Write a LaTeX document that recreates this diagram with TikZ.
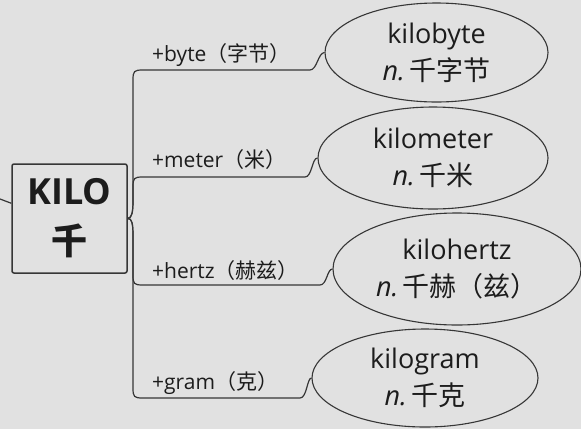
\documentclass[tikz,border=0pt]{standalone}
\usepackage{fontspec}
\setmainfont{Open Sans}
\newfontfamily\cjk{Noto Sans CJK SC}
\usetikzlibrary{shapes.geometric,calc}
\definecolor{bg}{HTML}{E1E1E1}
\definecolor{ink}{HTML}{1C1C1C}
\definecolor{ln}{HTML}{363636}
\begin{document}
\begin{tikzpicture}[x=1pt,y=-1pt,
  word/.style={ellipse,draw=ln,line width=1.1pt,inner sep=0pt,align=center,text=ink,font=\fontsize{27}{37}\selectfont},
  lab/.style={anchor=west,inner sep=0pt,text=ink,font=\fontsize{21}{25}\selectfont},
  br/.style={draw=ln,line width=1.2pt}]
\fill[bg] (0,0) rectangle (581,429);
\useasboundingbox (0,0) rectangle (581,429);
\node[draw=ln,line width=1.5pt,rounded corners=2pt,minimum width=115pt,minimum height=109pt,inner sep=0pt,align=center,text=ink,font=\bfseries\fontsize{36}{50}\selectfont] (kilo) at (69.5,218.5) {KILO\\{\cjk\bfseries 千}};
\node[word,minimum width=223pt,minimum height=99pt] (e1) at (436.5,52.5) {kilobyte\\\textit{n.}\,{\cjk 千字节}};
\node[word,minimum width=230pt,minimum height=102pt] (e2) at (433,158) {kilometer\\\textit{n.}\,{\cjk 千米}};
\node[word,minimum width=248pt,minimum height=112pt] (e3) at (457,269) {kilohertz\\\textit{n.}\,{\cjk 千赫（兹）}};
\node[word,minimum width=226pt,minimum height=98pt] (e4) at (425,378) {kilogram\\\textit{n.}\,{\cjk 千克}};
\node[lab] (l1) at (152,55) {+byte{\cjk （字节）}};
\node[lab] (l2) at (152,160) {+meter{\cjk （米）}};
\node[lab] (l3) at (152,271) {+hertz{\cjk （赫兹）}};
\node[lab] (l4) at (152,383) {+gram{\cjk （克）}};
\coordinate (in) at (0,199);
\draw[br] (in) -- ($(kilo.north west)+(0,40)$);
\draw[br] (kilo.east) .. controls (132,218) and (133,212) .. (133,200) -- (133,80) .. controls (133,71) and (134,70) .. (143,70) -- (310,70) .. controls (317,70) and (318,53) .. (e1.west);
\draw[br] (kilo.east) .. controls (132,218) and (133,212) .. (133,200) -- (133,187) .. controls (133,178) and (134,177) .. (143,177) -- (305,177) .. controls (312,177) and (312,158) .. (e2.west);
\draw[br] (kilo.east) .. controls (132,218) and (133,224) .. (133,236) -- (133,275) .. controls (133,284) and (134,285) .. (143,285) -- (320,285) .. controls (327,285) and (327,269) .. (e3.west);
\draw[br] (kilo.east) .. controls (132,218) and (133,224) .. (133,236) -- (133,388) .. controls (133,397) and (134,398) .. (143,398) -- (300,398) .. controls (307,398) and (307,378) .. (e4.west);
\end{tikzpicture}
\end{document}
